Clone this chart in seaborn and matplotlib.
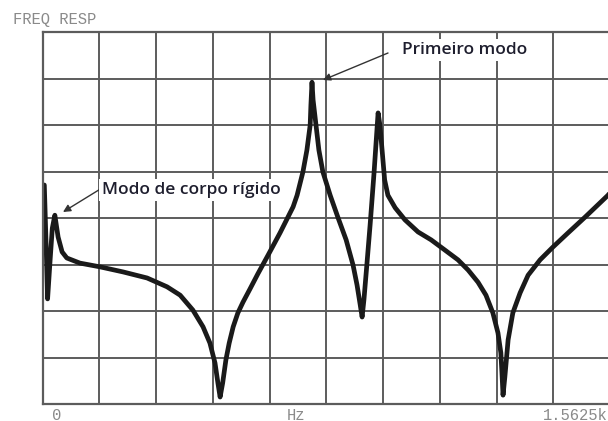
import matplotlib
matplotlib.use("Agg")
import matplotlib.pyplot as plt
import seaborn as sns
import numpy as np
import pandas as pd

# ---- data (frequency in Hz, magnitude in dB) ----
freq_hz = [5, 10, 14, 21, 27, 34, 43, 54, 67, 103, 158, 222, 288, 343, 379,
           414, 442, 461, 475, 483, 489, 496, 505, 514, 525, 538, 552, 571, 593,
           621, 654, 690, 701, 717, 728, 737, 739, 742, 745, 753, 761, 772, 792,
           814, 836, 855, 866, 874, 880, 885, 893, 902, 913, 918, 924, 929, 935,
           942, 951, 971, 998, 1034, 1070, 1108, 1144, 1172, 1199, 1221, 1240,
           1254, 1262, 1265, 1268, 1273, 1282, 1295, 1315, 1337, 1370, 1406,
           1447, 1494, 1557, 1562]
mag_db = [-32.9, -46.0, -57.4, -49.0, -42.2, -39.4, -44.1, -47.3, -48.6, -49.7,
          -50.5, -51.6, -52.9, -54.8, -56.6, -59.8, -63.4, -66.9, -71.2, -75.5,
          -78.5, -75.5, -70.5, -66.9, -63.4, -60.4, -58.1, -55.3, -52.0, -48.0,
          -43.2, -37.6, -35.1, -30.1, -25.4, -20.0, -15.7, -10.8, -14.6, -20.0,
          -25.4, -30.1, -35.1, -40.0, -44.7, -50.1, -54.4, -58.3, -61.3, -57.6,
          -50.1, -41.5, -30.1, -24.3, -17.4, -20.0, -25.4, -31.8, -35.1, -37.8,
          -40.4, -43.0, -44.7, -46.9, -49.0, -51.2, -53.8, -56.6, -60.4, -64.7,
          -69.0, -73.3, -78.1, -74.2, -66.2, -60.4, -56.1, -52.3, -49.0, -46.2,
          -43.2, -39.8, -35.1, -34.6]

x_max = 1562.5
x_grid_step = 156.25
y_min, y_max, y_grid_step = -80, 0, 10

title_text = "FREQ RESP"
axis_labels = ["0", "Hz", "1.5625k"]
ann_first = "Primeiro modo"
ann_rigid = "Modo de corpo rígido"

df = pd.DataFrame({"freq": freq_hz, "mag": mag_db})

sns.set_theme(style="white")
W, H, DPI = 608, 421, 100
fig = plt.figure(figsize=(W / DPI, H / DPI), dpi=DPI)
fig.patch.set_facecolor("white")

# axes in pixel layout
left_px, right_px, top_px, bottom_px = 42.5, 610.0, 32.0, 404.0
ax = fig.add_axes([left_px / W, 1 - bottom_px / H,
                   (right_px - left_px) / W, (bottom_px - top_px) / H])

sns.lineplot(data=df, x="freq", y="mag", ax=ax, color="#1a1a1a",
             linewidth=3.4, sort=False, estimator=None,
             solid_joinstyle="round", solid_capstyle="round")

ax.set_xlim(0, x_max)
ax.set_ylim(y_min, y_max)
ax.set_xticks(np.arange(0, x_max + 1, x_grid_step))
ax.set_yticks(np.arange(y_min, y_max + 1, y_grid_step))
ax.tick_params(length=0, labelbottom=False, labelleft=False)
ax.set_xlabel("")
ax.set_ylabel("")
ax.grid(True, color="#5c5c5c", linewidth=1.4)
ax.set_axisbelow(True)
for name, sp in ax.spines.items():
    sp.set_color("#5c5c5c")
    sp.set_linewidth(1.6)
ax.spines["right"].set_visible(False)

mono = ["Liberation Mono", "DejaVu Sans Mono"]
label_color = "#8a8a8a"
fig.text(13 / W, 1 - 19.5 / H, title_text, family=mono, fontsize=11.2,
         color=label_color, ha="left", va="center")
fig.text(57 / W, 1 - 415 / H, axis_labels[0], family=mono, fontsize=11.2,
         color=label_color, ha="center", va="center")
fig.text(296 / W, 1 - 415 / H, axis_labels[1], family=mono, fontsize=11.2,
         color=label_color, ha="center", va="center")
fig.text(543 / W, 1 - 415 / H, axis_labels[2], family=mono, fontsize=11.2,
         color=label_color, ha="left", va="center")

ann_font = dict(family=["Open Sans", "DejaVu Sans"], fontsize=12.5,
                weight="semibold", color="#1e1e2e")
bbox = dict(boxstyle="square,pad=0.15", fc="white", ec="none")
arrow = dict(arrowstyle="-|>", color="#333333", lw=1.0, mutation_scale=11,
             shrinkA=0, shrinkB=0)

ax.annotate("", xy=(323 / W, 1 - 80 / H), xytext=(388 / W, 1 - 53 / H),
            xycoords="figure fraction", textcoords="figure fraction",
            arrowprops=arrow)
ax.annotate("", xy=(63 / W, 1 - 212 / H), xytext=(102 / W, 1 - 188 / H),
            xycoords="figure fraction", textcoords="figure fraction",
            arrowprops=arrow)
fig.text(465 / W, 1 - 50 / H, ann_first, ha="center", va="center",
         bbox=bbox, **ann_font)
fig.text(191 / W, 1 - 190 / H, ann_rigid, ha="center", va="center",
         bbox=bbox, **ann_font)

fig.savefig("out.png", dpi=DPI, facecolor="white")
